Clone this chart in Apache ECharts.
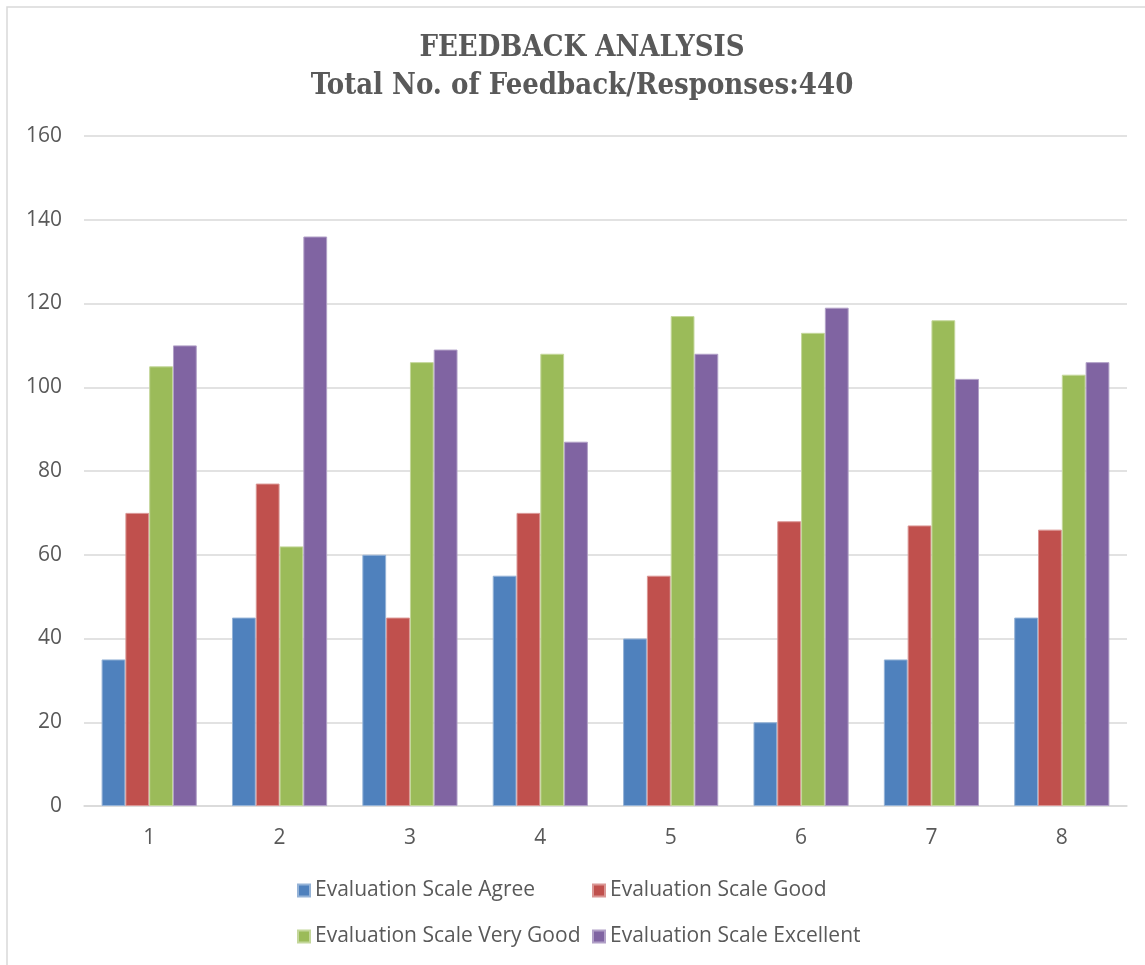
<!DOCTYPE html>
<html>
<head>
<meta charset="utf-8">
<script src="https://cdn.jsdelivr.net/npm/echarts@6/dist/echarts.min.js"></script>
<style>
html,body{margin:0;padding:0;background:#fff;}
#chart{width:1145px;height:965px;}
</style>
</head>
<body>
<div id="chart"></div>
<script>
const categories = ['1','2','3','4','5','6','7','8'];
const seriesNames = ['Evaluation Scale Agree','Evaluation Scale Good','Evaluation Scale Very Good','Evaluation Scale Excellent'];
const agree = [35, 45, 60, 55, 40, 20, 35, 45];
const good = [70, 77, 45, 70, 55, 68, 67, 66];
const veryGood = [105, 62, 106, 108, 117, 113, 116, 103];
const excellent = [110, 136, 109, 87, 108, 119, 102, 106];
const titleLines = ['FEEDBACK ANALYSIS', 'Total No. of Feedback/Responses:440'];

const colors = ['#4F81BD', '#C0504D', '#9BBB59', '#8064A2'];
const borders = ['#95B3D7', '#DA9694', '#C4D79B', '#B1A0C7'];
const txt = '#595959';
const font = 'Open Sans';

const chart = echarts.init(document.getElementById('chart'));
const dataSets = [agree, good, veryGood, excellent];
chart.setOption({
  animation: false,
  backgroundColor: '#fff',
  color: colors,
  graphic: [
    {type:'rect', shape:{x:7, y:7, width:1200, height:1000}, style:{fill:'none', stroke:'#D9D9D9', lineWidth:1.5}, silent:true},
    {type:'text', x:582, y:48, style:{text:titleLines[0], textAlign:'center', textVerticalAlign:'middle', font:'bold 29px "DejaVu Serif Condensed"', fill:txt}},
    {type:'text', x:582, y:86, style:{text:titleLines[1], textAlign:'center', textVerticalAlign:'middle', font:'bold 29px "DejaVu Serif Condensed"', fill:txt}}
  ],
  grid: {left:84, right:18, top:136, bottom:159, containLabel:false},
  legend: [
    {orient:'vertical', left:292, top:875, itemWidth:12, itemHeight:12, itemGap:25, icon:'rect',
     data:[seriesNames[0], seriesNames[2]], textStyle:{color:txt, fontSize:21, fontFamily:font}},
    {orient:'vertical', left:587, top:875, itemWidth:12, itemHeight:12, itemGap:25, icon:'rect',
     data:[seriesNames[1], seriesNames[3]], textStyle:{color:txt, fontSize:21, fontFamily:font}}
  ],
  xAxis: {
    type:'category', data:categories,
    axisLine:{lineStyle:{color:'#D9D9D9', width:1.5}},
    axisTick:{show:false},
    axisLabel:{color:txt, fontSize:21, fontFamily:font, margin:22}
  },
  yAxis: {
    type:'value', min:0, max:160, interval:20,
    axisLine:{show:false}, axisTick:{show:false},
    axisLabel:{color:txt, fontSize:21, fontFamily:font, margin:22},
    splitLine:{lineStyle:{color:'#D9D9D9', width:1.5}}
  },
  series: dataSets.map((d, i) => ({
    type:'bar', name:seriesNames[i], data:d,
    barGap:'0%', barCategoryGap:'27%',
    itemStyle:{color:colors[i], borderColor:borders[i], borderWidth:1}
  }))
});
</script>
</body>
</html>
